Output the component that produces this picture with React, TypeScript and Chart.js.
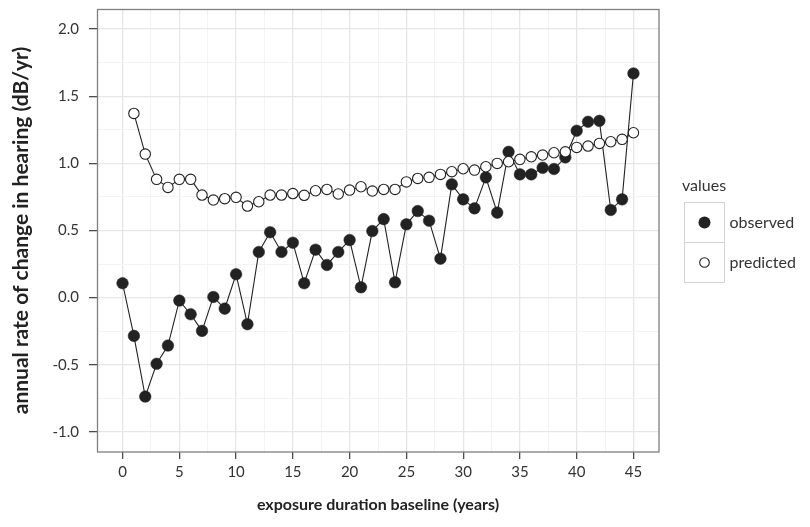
import React, { useEffect, useRef } from "react";
import { Chart, registerables } from "chart.js";

Chart.register(...registerables);

const observedYears: number[] = [
  0, 1, 2, 3, 4, 5, 6, 7, 8, 9, 10, 11, 12, 13, 14, 15, 16, 17, 18, 19, 20, 21, 22,
  23, 24, 25, 26, 27, 28, 29, 30, 31, 32, 33, 34, 35, 36, 37, 38, 39, 40, 41, 42, 43,
  44, 45,
];
const observedValues: number[] = [
  0.107, -0.285, -0.737, -0.493, -0.357, -0.022, -0.124, -0.248, 0.005, -0.082, 0.174,
  -0.198, 0.34, 0.487, 0.34, 0.409, 0.107, 0.357, 0.243, 0.34, 0.429, 0.077, 0.496,
  0.585, 0.114, 0.546, 0.645, 0.573, 0.29, 0.844, 0.732, 0.665, 0.896, 0.633, 1.086,
  0.918, 0.918, 0.967, 0.958, 1.045, 1.243, 1.31, 1.317, 0.653, 0.732, 1.67,
];
const predictedYears: number[] = [
  1, 2, 3, 4, 5, 6, 7, 8, 9, 10, 11, 12, 13, 14, 15, 16, 17, 18, 19, 20, 21, 22, 23,
  24, 25, 26, 27, 28, 29, 30, 31, 32, 33, 34, 35, 36, 37, 38, 39, 40, 41, 42, 43, 44,
  45,
];
const predictedValues: number[] = [
  1.372, 1.069, 0.881, 0.821, 0.881, 0.881, 0.764, 0.727, 0.737, 0.747, 0.682, 0.714,
  0.764, 0.764, 0.775, 0.762, 0.796, 0.806, 0.772, 0.801, 0.826, 0.794, 0.806, 0.806,
  0.862, 0.888, 0.896, 0.918, 0.938, 0.96, 0.95, 0.975, 1.0, 1.012, 1.03, 1.049, 1.062,
  1.079, 1.086, 1.119, 1.129, 1.149, 1.161, 1.179, 1.228,
];
const xTicks: number[] = [0, 5, 10, 15, 20, 25, 30, 35, 40, 45];
const xMinorTicks: number[] = [2.5, 7.5, 12.5, 17.5, 22.5, 27.5, 32.5, 37.5, 42.5];
const yTicks: number[] = [-1, -0.5, 0, 0.5, 1, 1.5, 2];
const yMinorTicks: number[] = [-0.75, -0.25, 0.25, 0.75, 1.25, 1.75];
const legendTitle = "values";
const seriesNames: string[] = ["observed", "predicted"];
const xTitle = "exposure duration baseline (years)";
const yTitle = "annual rate of change in hearing (dB/yr)";

const FONT = "Lato, 'Open Sans', sans-serif";
const DARK = "#222222";

const legendPlugin = {
  id: "ggLegend",
  afterDatasetsDraw(chart: any) {
    const { ctx, chartArea } = chart;
    ctx.save();
    // panel border
    ctx.strokeStyle = "#7f7f7f";
    ctx.lineWidth = 1.3;
    ctx.strokeRect(
      chartArea.left + 0.5,
      chartArea.top + 0.5,
      chartArea.right - chartArea.left - 0.5,
      chartArea.bottom - chartArea.top - 0.5
    );
    // legend
    const lx = chartArea.right + 23;
    ctx.fillStyle = "#333";
    ctx.font = `16px ${FONT}`;
    ctx.textBaseline = "middle";
    ctx.textAlign = "left";
    ctx.fillText(legendTitle, lx, 186);
    const boxX = chartArea.right + 25.5;
    const boxTop = 202.5;
    const boxSize = 40;
    seriesNames.forEach((name, i) => {
      const y0 = boxTop + i * boxSize;
      ctx.fillStyle = "#ffffff";
      ctx.fillRect(boxX, y0, boxSize, boxSize);
      ctx.strokeStyle = "#d4d4d4";
      ctx.lineWidth = 1;
      ctx.strokeRect(boxX, y0, boxSize, boxSize);
      const cx = boxX + boxSize / 2;
      const cy = y0 + boxSize / 2;
      ctx.beginPath();
      if (i === 0) {
        ctx.arc(cx, cy, 6, 0, Math.PI * 2);
        ctx.fillStyle = DARK;
        ctx.fill();
      } else {
        ctx.arc(cx, cy, 4.8, 0, Math.PI * 2);
        ctx.fillStyle = "#fff";
        ctx.fill();
        ctx.strokeStyle = DARK;
        ctx.lineWidth = 1.1;
        ctx.stroke();
      }
      ctx.fillStyle = "#333";
      ctx.font = `16px ${FONT}`;
      ctx.fillText(name, boxX + boxSize + 5, cy);
    });
    ctx.restore();
  },
};

const isMajor = (v: number, list: number[]) => list.some((t) => Math.abs(t - v) < 1e-9);

export default function App() {
  const ref = useRef<HTMLCanvasElement | null>(null);
  useEffect(() => {
    document.body.style.margin = "0";
    if (!ref.current) return;
    const obs = observedYears.map((x, i) => ({ x, y: observedValues[i] }));
    const pred = predictedYears.map((x, i) => ({ x, y: predictedValues[i] }));
    const chart = new Chart(ref.current, {
      type: "scatter",
      data: {
        datasets: [
          {
            label: seriesNames[1] + " points",
            data: pred,
            showLine: false,
            pointRadius: 5.2,
            pointHoverRadius: 5.2,
            pointBackgroundColor: "#ffffff",
            pointBorderColor: DARK,
            pointBorderWidth: 1.1,
            order: 1,
          },
          {
            label: seriesNames[0] + " points",
            data: obs,
            showLine: false,
            pointRadius: 5.8,
            pointHoverRadius: 5.8,
            pointBackgroundColor: DARK,
            pointBorderColor: DARK,
            pointBorderWidth: 0.5,
            order: 2,
          },
          {
            label: seriesNames[1],
            data: pred,
            showLine: true,
            pointRadius: 0,
            borderColor: DARK,
            borderWidth: 1.1,
            order: 3,
          },
          {
            label: seriesNames[0],
            data: obs,
            showLine: true,
            pointRadius: 0,
            borderColor: DARK,
            borderWidth: 1.1,
            order: 4,
          },
        ],
      },
      options: {
        animation: false,
        responsive: false,
        maintainAspectRatio: false,
        events: [],
        layout: { padding: { top: 9, right: 151, left: 0, bottom: 0 } },
        plugins: { legend: { display: false }, tooltip: { enabled: false } },
        scales: {
          x: {
            type: "linear",
            min: -2.25,
            max: 47.25,
            afterBuildTicks: (scale: any) => {
              scale.ticks = [...xTicks, ...xMinorTicks]
                .sort((a, b) => a - b)
                .map((v) => ({ value: v }));
            },
            afterFit: (scale: any) => {
              scale.height = 75;
              scale.paddingLeft = 0;
              scale.paddingRight = 0;
            },
            ticks: {
              autoSkip: false,
              maxRotation: 0,
              padding: 4,
              color: "#333",
              font: { family: FONT, size: 15 },
              callback: (v: any) => (isMajor(Number(v), xTicks) ? String(v) : ""),
            },
            grid: {
              drawOnChartArea: true,
              drawTicks: true,
              tickLength: 7,
              color: (c: any) =>
                isMajor(c.tick?.value, xTicks) ? "#e6e6e6" : "#f3f3f3",
              lineWidth: (c: any) => (isMajor(c.tick?.value, xTicks) ? 1.3 : 1),
              tickColor: (c: any) =>
                isMajor(c.tick?.value, xTicks) ? "#4d4d4d" : "rgba(0,0,0,0)",
              tickWidth: 1.3,
            },
            border: { display: false },
            title: {
              display: true,
              text: xTitle,
              color: "#222",
              font: { family: FONT, size: 16, weight: "bold" },
              padding: { top: 0, bottom: 13 },
            },
          },
          y: {
            type: "linear",
            min: -1.15,
            max: 2.15,
            afterBuildTicks: (scale: any) => {
              scale.ticks = [...yTicks, ...yMinorTicks]
                .sort((a, b) => a - b)
                .map((v) => ({ value: v }));
            },
            afterFit: (scale: any) => {
              scale.width = 97;
              scale.paddingTop = 0;
              scale.paddingBottom = 0;
            },
            ticks: {
              autoSkip: false,
              padding: 10,
              color: "#333",
              font: { family: FONT, size: 15 },
              callback: (v: any) =>
                isMajor(Number(v), yTicks) ? Number(v).toFixed(1) : "",
            },
            grid: {
              drawOnChartArea: true,
              drawTicks: true,
              tickLength: 8,
              color: (c: any) =>
                isMajor(c.tick?.value, yTicks) ? "#e6e6e6" : "#f3f3f3",
              lineWidth: (c: any) => (isMajor(c.tick?.value, yTicks) ? 1.3 : 1),
              tickColor: (c: any) =>
                isMajor(c.tick?.value, yTicks) ? "#4d4d4d" : "rgba(0,0,0,0)",
              tickWidth: 1.3,
            },
            border: { display: false },
            title: {
              display: true,
              text: yTitle,
              color: "#222",
              font: { family: FONT, size: 21, weight: "bold" },
              padding: { top: 9, bottom: 0 },
            },
          },
        },
      },
      plugins: [legendPlugin],
    } as any);
    return () => chart.destroy();
  }, []);
  return (
    <div style={{ width: 810, height: 527, background: "#fff" }}>
      <canvas ref={ref} width={810} height={527} style={{ display: "block" }} />
    </div>
  );
}
